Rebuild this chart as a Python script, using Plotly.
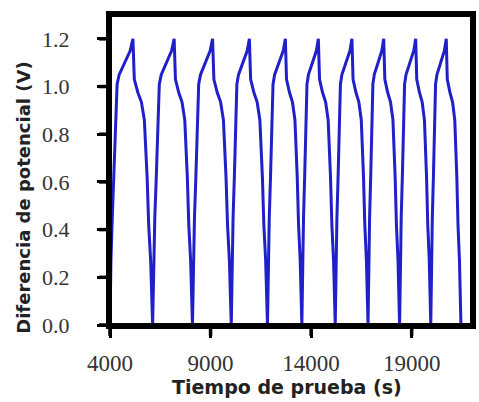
import plotly.graph_objects as go

# Key times (s)
cycle_min_times = [4000, 6120, 8100, 10030, 11830, 13540, 15200, 16830, 18400, 19950, 21450]
cycle_peak_times = [5140, 7190, 9100, 10930, 12720, 14360, 16030, 17610, 19200, 20720]

# Shape of one charge branch (fraction of charge time, V)
charge_frac = [0.0, 0.04, 0.10, 0.17, 0.24, 0.31, 0.40, 0.65, 0.88, 1.0]
charge_volt = [0.0, 0.27, 0.45, 0.62, 0.86, 1.01, 1.05, 1.10, 1.15, 1.20]
# Shape of one discharge branch (fraction of discharge time, V)
dis_frac = [0.0, 0.03, 0.07, 0.25, 0.43, 0.58, 0.66, 0.72, 0.80, 0.90, 1.0]
dis_volt = [1.20, 1.10, 1.03, 0.975, 0.935, 0.86, 0.74, 0.62, 0.42, 0.27, 0.0]

x_ticks = [4000, 9000, 14000, 19000]
y_ticks = [0.0, 0.2, 0.4, 0.6, 0.8, 1.0, 1.2]
x_range = [4000, 22000]
y_range = [0, 1.3]

t, v = [], []
for i, tp in enumerate(cycle_peak_times):
    t0 = cycle_min_times[i]
    t1 = cycle_min_times[i + 1]
    for f, vv in zip(charge_frac, charge_volt):
        if i > 0 and f == 0.0:
            continue
        t.append(t0 + f * (tp - t0)); v.append(vv)
    for f, vv in zip(dis_frac[1:], dis_volt[1:]):
        t.append(tp + f * (t1 - tp)); v.append(vv)

SERIF = "Liberation Serif, Times New Roman, serif"

fig = go.Figure()
fig.add_trace(go.Scatter(x=t, y=v, mode="lines",
                         line=dict(color="#2020c8", width=3),
                         showlegend=False, cliponaxis=True))

# frame and heavy tick marks (in paper units so they are not clipped)
shapes = [dict(type="rect", xref="paper", yref="paper", x0=0, x1=1, y0=0, y1=1,
               line=dict(color="black", width=4), layer="above")]
for yt in y_ticks:
    yp = (yt - y_range[0]) / (y_range[1] - y_range[0])
    shapes.append(dict(type="line", xref="paper", yref="paper", x0=-0.03, x1=0,
                       y0=yp, y1=yp, line=dict(color="black", width=3.5), layer="above"))
for xt in x_ticks:
    xp = (xt - x_range[0]) / (x_range[1] - x_range[0])
    shapes.append(dict(type="line", xref="paper", yref="paper", x0=xp, x1=xp,
                       y0=-0.035, y1=0, line=dict(color="black", width=3.5), layer="above"))

fig.update_layout(
    width=479, height=402,
    margin=dict(l=110, r=3, t=15, b=77),
    paper_bgcolor="white", plot_bgcolor="white",
    xaxis=dict(range=x_range, tickvals=x_ticks,
               ticktext=[str(x) for x in x_ticks],
               showline=True, linecolor="black", linewidth=4, mirror=True,
               ticks="outside", ticklen=9, tickwidth=3, tickcolor="black",
               showgrid=False, zeroline=False, ticklabelstandoff=5,
               tickfont=dict(family=SERIF, size=23, color="#333333")),
    yaxis=dict(range=y_range, tickvals=y_ticks,
               ticktext=[f"{y:.1f}" for y in y_ticks],
               showline=True, linecolor="black", linewidth=4, mirror=True,
               ticks="outside", ticklen=9, tickwidth=3, tickcolor="black",
               showgrid=False, zeroline=False, ticklabelstandoff=23,
               tickfont=dict(family=SERIF, size=22, color="#333333")),
    shapes=shapes,
    annotations=[
        dict(text="Tiempo de prueba (s)", xref="paper", yref="paper",
             x=0.49, y=-0.2, xanchor="center", yanchor="middle", showarrow=False,
             font=dict(family="DejaVu Sans", size=19, color="#222222", weight="bold")),
        dict(text="Diferencia de potencial (V)", xref="paper", yref="paper",
             x=-0.238, y=0.41, xanchor="center", yanchor="middle", showarrow=False,
             textangle=-90,
             font=dict(family="DejaVu Sans", size=18, color="#222222", weight="bold")),
    ],
)

fig.write_html("out.html")
